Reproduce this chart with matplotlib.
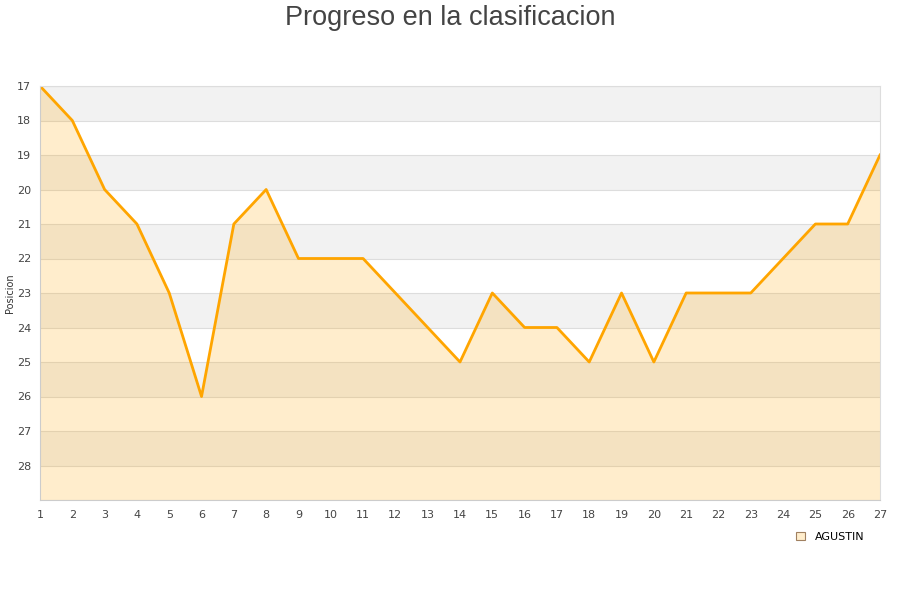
import matplotlib
matplotlib.use('Agg')
import matplotlib.pyplot as plt
from matplotlib.patches import Patch

# Jornadas y posiciones
jornadas = list(range(1, 28))
posiciones = [17, 18, 20, 21, 23, 26, 21, 20, 22, 22, 22, 23, 24, 25, 23,
              24, 24, 25, 23, 25, 23, 23, 23, 22, 21, 21, 19]
jugador = "AGUSTIN"
y_ticks = list(range(17, 29))

fig = plt.figure(figsize=(9, 6), dpi=100)
ax = fig.add_axes([40 / 900, 100 / 600, 840 / 900, 414 / 600])

# bandas alternas
for y in range(17, 29, 2):
    ax.axhspan(y, y + 1, color='#f2f2f2', zorder=0, lw=0)
for y in range(17, 30):
    ax.axhline(y, color='#dddddd', lw=0.8, zorder=0.5)

ax.fill_between(jornadas, posiciones, 29, color='#ffa500', alpha=0.2, lw=0, zorder=1)
ax.plot(jornadas, posiciones, color='#ffa500', lw=2, zorder=2)

ax.set_xlim(1, 27)
ax.set_ylim(29, 17)
ax.set_xticks(jornadas)
ax.set_yticks(y_ticks)
ax.tick_params(axis='both', length=0, labelsize=8, colors='#444444')
ax.tick_params(axis='x', pad=7)
ax.tick_params(axis='y', pad=6.5)
for s in ['top', 'right']:
    ax.spines[s].set_color('#dddddd')
ax.spines['left'].set_color('#cccccc')
ax.spines['bottom'].set_color('#cccccc')
ax.set_ylabel('Posicion', fontsize=7, color='#333333')
ax.yaxis.set_label_coords(-25 / 840, 0.5)

fig.text(0.5, 0.992, 'Progreso en la clasificacion', ha='center', va='top',
         fontsize=19.5, color='#444444', family='Liberation Sans')

handle = Patch(facecolor='#ffedcc', edgecolor='#a08060', lw=0.8)
fig.legend([handle], [jugador], loc='center', bbox_to_anchor=(830 / 900, 1 - 537 / 600),
           frameon=False, fontsize=8, handlelength=0.8, handleheight=0.8,
           handletextpad=0.9)

plt.savefig('out.png', dpi=100)
